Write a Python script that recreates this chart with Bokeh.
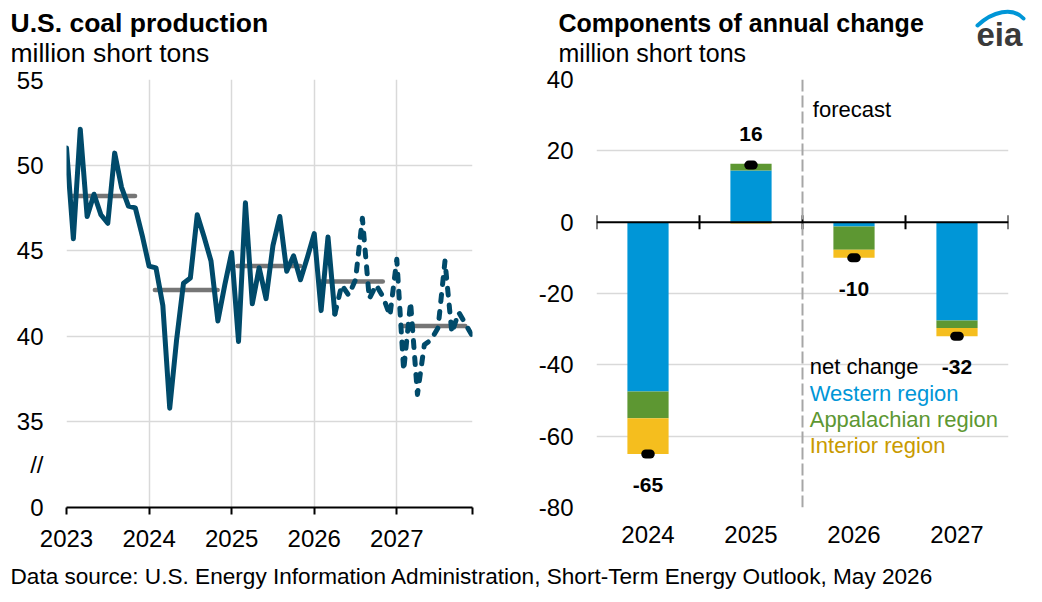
import math

from bokeh.core.properties import value
from bokeh.embed import file_html
from bokeh.layouts import column, row
from bokeh.models import ColumnDataSource, FixedTicker, Range1d, Span
from bokeh.plotting import figure
from bokeh.resources import INLINE

FONT = "Liberation Sans"

# ---------------------------------------------------------------- data
# Monthly U.S. coal production, million short tons
prod_2023 = [51.0, 45.7, 52.1, 47.0, 48.3, 47.1, 46.6, 50.7, 48.7, 47.6, 47.5, 45.9]
prod_2024 = [44.1, 44.0, 41.8, 35.8, 39.8, 43.1, 43.4, 47.1, 45.8, 44.4, 40.9, 43.0]
prod_2025 = [44.9, 39.7, 47.8, 41.9, 44.0, 42.2, 45.3, 47.0, 43.8, 44.7, 43.3, 44.6]
prod_2026 = [46.0, 41.5, 45.8, 41.3, 43.0, 42.4, 43.3, 46.9, 42.2, 43.0, 42.3, 41.2]
prod_2027 = [44.5, 38.0, 42.0, 36.6, 39.5, 39.8, 40.5, 44.4, 40.2, 41.4, 40.7, 40.0]
first_year = 2023
last_history_month = 39          # April 2026; later months are forecast

# Annual averages
avg_years = [2023, 2024, 2025, 2026, 2027]
avg_values = [48.2, 42.7, 44.1, 43.2, 40.6]

# Components of annual change, million short tons
change_years = ["2024", "2025", "2026", "2027"]
western = [-47.5, 14.5, -1.2, -27.6]
appalachian = [-7.5, 1.9, -6.5, -2.1]
interior = [-10.0, -0.4, -2.3, -2.3]
net_change = [-65, 16, -10, -32]
change_ticks = [-80, -60, -40, -20, 0, 20, 40]

# ---------------------------------------------------------------- style
BLACK = "#000000"
GRID = "#D9D9D9"
LINE_BLUE = "#004A6A"
AVG_GREY = "#767676"
WEST_C = "#0096D7"
APP_C = "#5D9732"
INT_C = "#F5BE1E"
INT_TEXT = "#C99A00"


def style_axis(ax, size="24px"):
    ax.major_label_text_font = FONT
    ax.major_label_text_font_size = size
    ax.major_label_text_color = BLACK
    ax.minor_tick_line_color = None


def blank_canvas(width, height, y_top, y_bottom):
    """A figure whose data coordinates are page pixels, used for free text."""
    f = figure(width=width, height=height, x_range=Range1d(0, width),
               y_range=Range1d(y_bottom, y_top), output_backend="svg",
               toolbar_location=None, title=None,
               x_axis_location=None, y_axis_location=None, min_border=0)
    f.grid.visible = False
    f.outline_line_color = None
    return f


# ---------------------------------------------------------------- header
HEADER_H = 66
header = blank_canvas(1042, HEADER_H, 0, HEADER_H)
header.text(x=[10], y=[22], text=["U.S. coal production"],
            text_font=value(FONT), text_font_style="bold", text_font_size="26.5px",
            text_color=BLACK, text_baseline="middle")
header.text(x=[10], y=[52], text=["million short tons"],
            text_font=value(FONT), text_font_size="26.5px",
            text_color=BLACK, text_baseline="middle")
header.text(x=[558], y=[22], text=["Components of annual change"],
            text_font=value(FONT), text_font_style="bold", text_font_size="25px",
            text_color=BLACK, text_baseline="middle")
header.text(x=[558], y=[52], text=["million short tons"],
            text_font=value(FONT), text_font_size="25px",
            text_color=BLACK, text_baseline="middle")
# eia mark
header.bezier(x0=[977], y0=[25], x1=[1023], y1=[18], cx0=[992], cy0=[11], cx1=[1012], cy1=[6],
              line_color=WEST_C, line_width=4, line_cap="round")
header.text(x=[976], y=[34], text=["eia"], text_font=value(FONT), text_font_style="bold",
            text_font_size="33px", text_color="#3A3A3A", text_baseline="middle")

# ---------------------------------------------------------------- left: production
PANEL_H = 564 - HEADER_H
monthly = prod_2023 + prod_2024 + prod_2025 + prod_2026 + prod_2027
months = [first_year + i / 12 for i in range(len(monthly))]
x_end = months[-1]

left = figure(width=530, height=PANEL_H, x_range=Range1d(first_year, x_end), y_range=Range1d(30, 55),
              output_backend="svg", toolbar_location=None, title=None,
              min_border_left=66, min_border_right=58, min_border_top=79 - HEADER_H,
              min_border_bottom=564 - 510)
left.outline_line_color = None

year_ticks = [2023, 2024, 2025, 2026, 2027, x_end]
left.xaxis.ticker = FixedTicker(ticks=year_ticks)
left.xaxis.major_label_overrides = {2023: "2023", 2024: "2024", 2025: "2025",
                                    2026: "2026", 2027: "2027", x_end: ""}
style_axis(left.xaxis[0])
left.xaxis.axis_line_color = BLACK
left.xaxis.axis_line_width = 2
left.xaxis.major_tick_line_color = BLACK
left.xaxis.major_tick_line_width = 2
left.xaxis.major_tick_out = 7
left.xaxis.major_tick_in = 0
left.xaxis.major_label_standoff = 15

# the axis is broken between 0 and 35
left.yaxis.ticker = FixedTicker(ticks=[30, 32.5, 35, 40, 45, 50, 55])
left.yaxis.major_label_overrides = {30: "0", 32.5: "//", 35: "35", 40: "40",
                                    45: "45", 50: "50", 55: "55"}
style_axis(left.yaxis[0])
left.yaxis.axis_line_color = None
left.yaxis.major_tick_line_color = None
left.yaxis.major_tick_out = 0
left.yaxis.major_tick_in = 0
left.yaxis.major_label_standoff = 23

left.xgrid.ticker = FixedTicker(ticks=year_ticks)
left.ygrid.ticker = FixedTicker(ticks=[35, 40, 45, 50, 55])
left.grid.grid_line_color = GRID
left.grid.grid_line_width = 1.5

left.segment(x0=[y + 0.07 for y in avg_years], x1=[y + 0.83 for y in avg_years],
             y0=avg_values, y1=avg_values, line_color=AVG_GREY, line_width=4.5, line_cap="round")

k = last_history_month
left.line(months[:k + 1], monthly[:k + 1], line_color=LINE_BLUE, line_width=5,
          line_join="round", line_cap="round")
left.line(months[k:], monthly[k:], line_color=LINE_BLUE, line_width=5,
          line_join="round", line_cap="round", line_dash="7 10")

# ---------------------------------------------------------------- right: components
centers = [i + 0.5 for i in range(len(change_years))]

right = figure(width=512, height=PANEL_H, x_range=Range1d(0, len(change_years)), y_range=Range1d(-80, 40),
               output_backend="svg", toolbar_location=None, title=None,
               min_border_left=66, min_border_right=34, min_border_top=79 - HEADER_H,
               min_border_bottom=564 - 507)
right.outline_line_color = None

right.xaxis.ticker = FixedTicker(ticks=centers)
right.xaxis.major_label_overrides = {c: y for c, y in zip(centers, change_years)}
style_axis(right.xaxis[0])
right.xaxis.axis_line_color = None
right.xaxis.major_tick_line_color = None
right.xaxis.major_tick_out = 0
right.xaxis.major_tick_in = 0
right.xaxis.major_label_standoff = 18

right.yaxis.ticker = FixedTicker(ticks=change_ticks)
right.yaxis.major_label_overrides = {t: str(t) for t in change_ticks}   # plain hyphen minus
style_axis(right.yaxis[0])
right.yaxis.axis_line_color = None
right.yaxis.major_tick_line_color = None
right.yaxis.major_tick_out = 0
right.yaxis.major_tick_in = 0
right.yaxis.major_label_standoff = 23

right.xgrid.ticker = FixedTicker(ticks=[0, len(change_years)])
right.ygrid.ticker = FixedTicker(ticks=[t for t in change_ticks if t != 0])
right.grid.grid_line_color = GRID
right.grid.grid_line_width = 1.5

# stacked components: positives build up from zero, negatives build down
pos_base = [0.0] * len(change_years)
neg_base = [0.0] * len(change_years)
for series, color in ((western, WEST_C), (appalachian, APP_C), (interior, INT_C)):
    bottoms, tops = [], []
    for j, v in enumerate(series):
        if v >= 0:
            b = pos_base[j]
            pos_base[j] += v
        else:
            b = neg_base[j]
            neg_base[j] += v
        bottoms.append(b)
        tops.append(b + v)
    right.vbar(x=centers, width=0.4, bottom=bottoms, top=tops, fill_color=color, line_color=None)

right.add_layout(Span(location=0, dimension="width", line_color=BLACK, line_width=2))
right.scatter(x=list(range(len(change_years) + 1)), y=[0] * (len(change_years) + 1),
              marker="dash", angle=math.pi / 2, size=14, line_color=BLACK, line_width=2)
right.add_layout(Span(location=2, dimension="height", line_color="#A6A6A6",
                      line_width=2, line_dash="12 4"))

net_src = ColumnDataSource(dict(
    x=centers, y=net_change,
    x0=[c - 0.022 for c in centers], x1=[c + 0.022 for c in centers],
    label=[str(v) for v in net_change],
    offset=[-31 if v >= 0 else 31 for v in net_change],
))
right.segment(x0="x0", x1="x1", y0="y", y1="y", source=net_src,
              line_color=BLACK, line_width=9, line_cap="round")
right.text(x="x", y="y", text="label", y_offset="offset", source=net_src,
           text_font=value(FONT), text_font_style="bold", text_font_size="21px",
           text_color=BLACK, text_align="center", text_baseline="middle")

right.text(x=[2.1], y=[31.6], text=["forecast"], text_font=value(FONT), text_font_size="22px",
           text_color=BLACK, text_baseline="middle")
right.text(x=[2.07] * 4, y=[-40.6, -47.9, -55.2, -62.5],
           text=["net change", "Western region", "Appalachian region", "Interior region"],
           text_color=[BLACK, WEST_C, APP_C, INT_TEXT],
           text_font=value(FONT), text_font_size="22px", text_baseline="middle")

# ---------------------------------------------------------------- footer
footer = blank_canvas(1042, 602 - 564, 564, 602)
footer.text(x=[10], y=[576],
            text=["Data source: U.S. Energy Information Administration, Short-Term Energy Outlook, May 2026"],
            text_font=value(FONT), text_font_size="22.6px", text_color=BLACK, text_baseline="middle")

p = column(header, row(left, right), footer)
open("out.html", "w").write(file_html(p, INLINE))
